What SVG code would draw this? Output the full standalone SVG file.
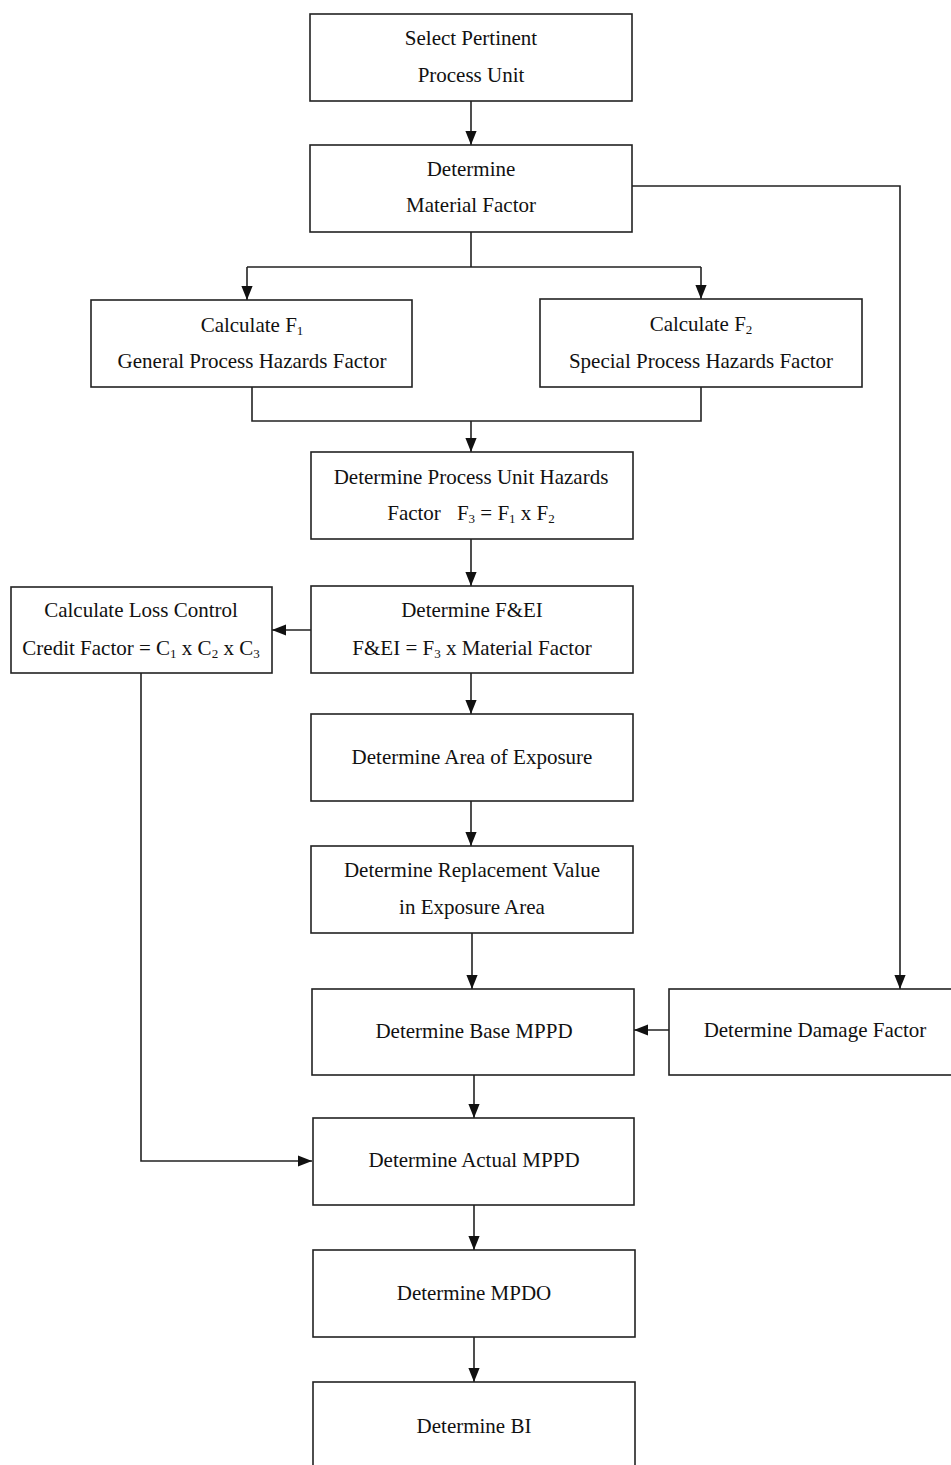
<svg xmlns="http://www.w3.org/2000/svg" width="951" height="1465" viewBox="0 0 951 1465">
<style>
.box{fill:#fff;stroke:#222;stroke-width:1.6}
.t{font-family:"Liberation Serif","Times New Roman",serif;font-size:21px;fill:#111;text-anchor:middle}
.s{font-size:13px}
.c{fill:none;stroke:#222;stroke-width:1.6}
</style>
<defs>
<marker id="b" viewBox="0 0 10 10" refX="10" refY="5" markerWidth="14" markerHeight="14" markerUnits="userSpaceOnUse" orient="auto">
<path d="M0,1 L10,5 L0,9 z" fill="#111"/>
</marker>
</defs>
<rect width="951" height="1465" fill="#fff"/>
<g id="connectors">
<path class="c" d="M471,101 V145" marker-end="url(#b)"/>
<path class="c" d="M471,232 V267 M247,267 H701"/>
<path class="c" d="M247,267 V300" marker-end="url(#b)"/>
<path class="c" d="M701,267 V299" marker-end="url(#b)"/>
<path class="c" d="M252,387 V421 H701 V387"/>
<path class="c" d="M471,421 V452" marker-end="url(#b)"/>
<path class="c" d="M471,539 V586" marker-end="url(#b)"/>
<path class="c" d="M311,630 H272" marker-end="url(#b)"/>
<path class="c" d="M141,673 V1161 H312" marker-end="url(#b)"/>
<path class="c" d="M471,673 V714" marker-end="url(#b)"/>
<path class="c" d="M471,801 V846" marker-end="url(#b)"/>
<path class="c" d="M472,933 V989" marker-end="url(#b)"/>
<path class="c" d="M632,186 H900 V989" marker-end="url(#b)"/>
<path class="c" d="M669,1030 H634" marker-end="url(#b)"/>
<path class="c" d="M474,1075 V1118" marker-end="url(#b)"/>
<path class="c" d="M474,1205 V1250" marker-end="url(#b)"/>
<path class="c" d="M474,1337 V1382" marker-end="url(#b)"/>
</g>
<g id="n1"><rect class="box" x="310" y="14" width="322" height="87"/>
<text class="t" x="471" y="45">Select Pertinent</text><text class="t" x="471" y="82">Process Unit</text></g>
<g id="n2"><rect class="box" x="310" y="145" width="322" height="87"/>
<text class="t" x="471" y="176">Determine</text><text class="t" x="471" y="212">Material Factor</text></g>
<g id="n3"><rect class="box" x="91" y="300" width="321" height="87"/>
<text class="t" x="252" y="332">Calculate F<tspan class="s" dy="3">1</tspan></text><text class="t" x="252" y="368">General Process Hazards Factor</text></g>
<g id="n4"><rect class="box" x="540" y="299" width="322" height="88"/>
<text class="t" x="701" y="331">Calculate F<tspan class="s" dy="3">2</tspan></text><text class="t" x="701" y="368">Special Process Hazards Factor</text></g>
<g id="n5"><rect class="box" x="311" y="452" width="322" height="87"/>
<text class="t" x="471" y="484">Determine Process Unit Hazards</text>
<text class="t" x="471" y="520">Factor<tspan dx="16">F</tspan><tspan class="s" dy="3">3</tspan><tspan dy="-3"> = F</tspan><tspan class="s" dy="3">1</tspan><tspan dy="-3"> x F</tspan><tspan class="s" dy="3">2</tspan></text></g>
<g id="n6"><rect class="box" x="311" y="586" width="322" height="87"/>
<text class="t" x="472" y="617">Determine F&amp;EI</text>
<text class="t" x="472" y="655">F&amp;EI = F<tspan class="s" dy="3">3</tspan><tspan dy="-3"> x Material Factor</tspan></text></g>
<g id="n7"><rect class="box" x="11" y="587" width="261" height="86"/>
<text class="t" x="141" y="617">Calculate Loss Control</text>
<text class="t" x="141" y="655">Credit Factor = C<tspan class="s" dy="3">1</tspan><tspan dy="-3"> x C</tspan><tspan class="s" dy="3">2</tspan><tspan dy="-3"> x C</tspan><tspan class="s" dy="3">3</tspan></text></g>
<g id="n8"><rect class="box" x="311" y="714" width="322" height="87"/>
<text class="t" x="472" y="764">Determine Area of Exposure</text></g>
<g id="n9"><rect class="box" x="311" y="846" width="322" height="87"/>
<text class="t" x="472" y="877">Determine Replacement Value</text><text class="t" x="472" y="914">in Exposure Area</text></g>
<g id="n10"><rect class="box" x="312" y="989" width="322" height="86"/>
<text class="t" x="474" y="1038">Determine Base MPPD</text></g>
<g id="n11"><rect class="box" x="669" y="989" width="290" height="86"/>
<text class="t" x="815" y="1037">Determine Damage Factor</text></g>
<g id="n12"><rect class="box" x="313" y="1118" width="321" height="87"/>
<text class="t" x="474" y="1167">Determine Actual MPPD</text></g>
<g id="n13"><rect class="box" x="313" y="1250" width="322" height="87"/>
<text class="t" x="474" y="1300">Determine MPDO</text></g>
<g id="n14"><rect class="box" x="313" y="1382" width="322" height="95"/>
<text class="t" x="474" y="1433">Determine BI</text></g>
</svg>
